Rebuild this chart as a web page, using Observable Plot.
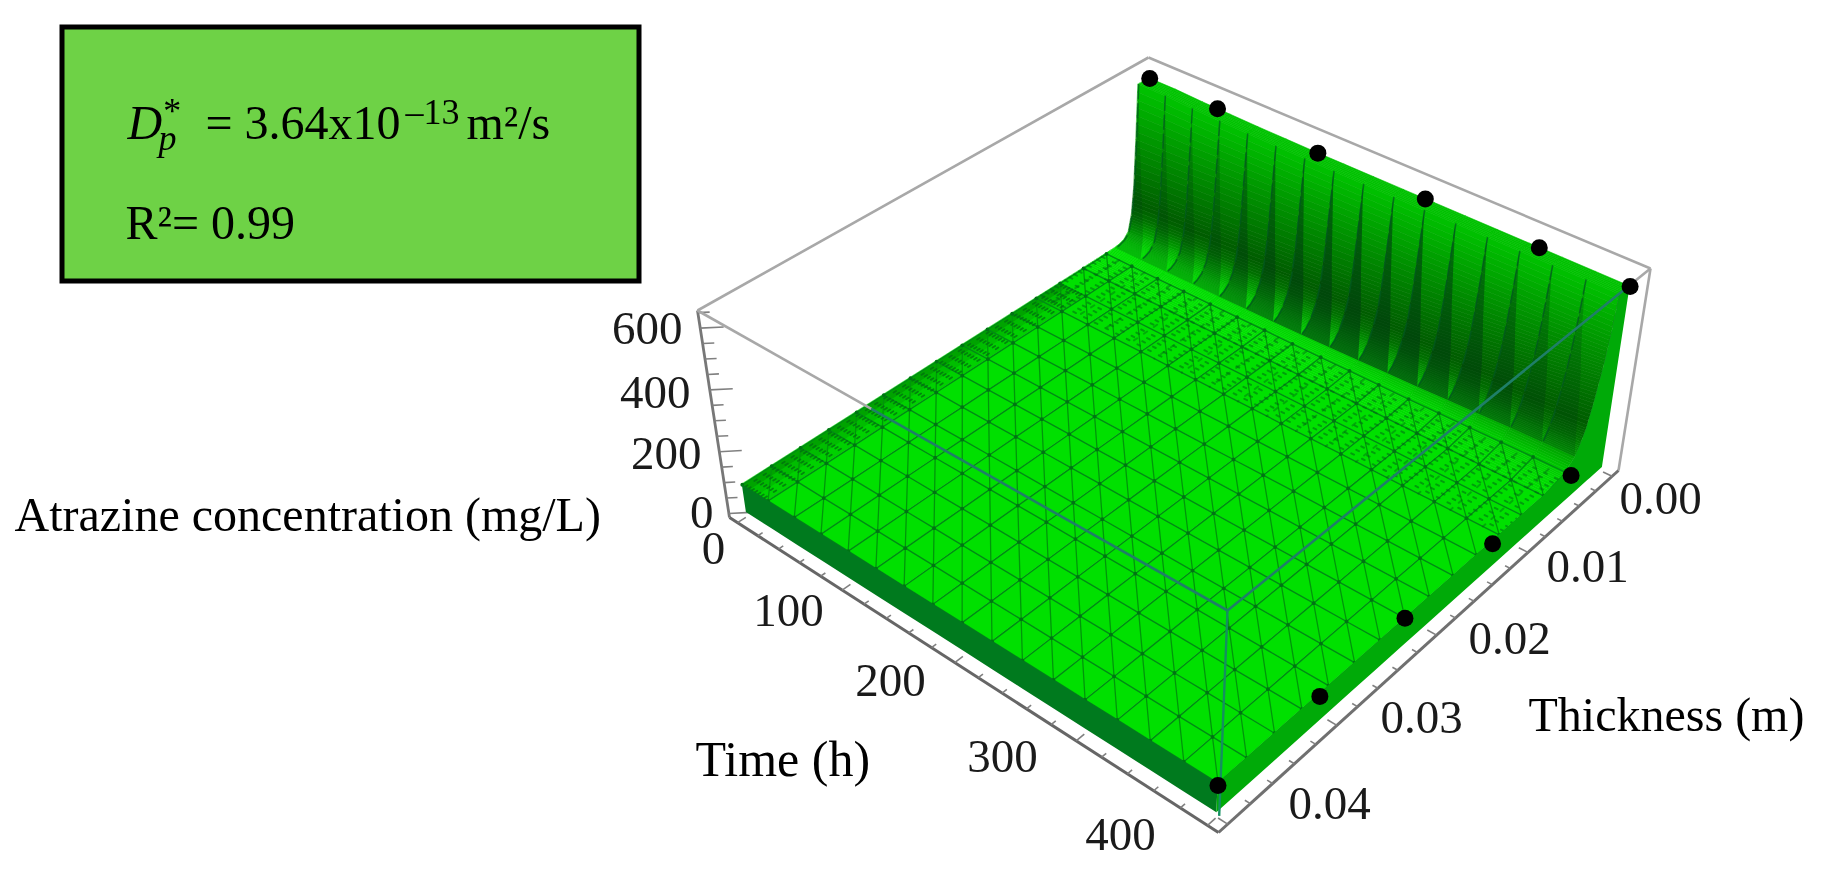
<!DOCTYPE html>
<html><head><meta charset="utf-8">
<style>html,body{margin:0;padding:0;background:#fff;overflow:hidden}svg{display:block}</style>
<script src="https://cdn.jsdelivr.net/npm/d3@7"></script>
<script src="https://cdn.jsdelivr.net/npm/@observablehq/plot@0.6"></script>
</head><body><script>
// ---- data ----
const times = [0,25,50,75,100,125,150,175,200,225,250,275,300,325,350,375,400];
const wallThick = [0,0.0012,0.0015,0.0018,0.0021,0.0025,0.003,0.0035,0.004,0.005,0.006,0.0075];
const wallConc = [
[610,610,420,260,170,115,98,92,90,90,90,90],
[610,610,425,268,178,122,102,94,91,90,90,90],
[606,606,430,275,186,130,106,96,92,90,90,90],
[604,604,435,283,194,138,110,98,93,90,90,90],
[602,602,440,290,202,146,115,101,94,91,90,90],
[601,601,445,298,210,154,120,104,96,91,90,90],
[600,600,450,305,218,162,126,107,98,92,90,90],
[600,600,455,313,226,170,132,111,100,92,90,90],
[600,600,458,322,235,180,138,115,103,93,90,90],
[600,600,461,331,245,190,145,120,106,94,91,90],
[600,600,464,340,255,200,152,125,110,95,91,90],
[600,600,466,350,265,210,160,130,113,96,92,90],
[600,600,469,360,280,222,168,136,117,98,92,90],
[600,600,472,370,295,235,176,142,121,100,93,90],
[600,600,474,380,310,247,184,148,125,102,94,90],
[600,600,477,390,325,258,192,154,128,104,95,90],
[600,600,480,400,340,270,200,160,130,105,95,90]];
const floorThick = [0.01,0.0125,0.015,0.0175,0.02,0.0225,0.025,0.0275,0.03,0.0325,0.035,0.0375,0.04];
const floorConc = [90,90,90,90,90,90,90,90,90,90,90,90,90];
const wedgeStrength = [.22,.24,.26,.3,.42,.5,.55,.6,.62,.6,.6,.55,.5,.42,.32,.24];
const topDotTimes = [0,63,152,242,332,400];
const topDotConc = [610,605,600,600,600,600];
const sideDotThick = [0.04,0.0308,0.0225,0.0132,0.0042];
const sideDotConc = [83,80,90,80,75];
const timeTicks = [0,100,200,300,400];
const thickTicks = [0,0.01,0.02,0.03,0.04];
const concTicks = [0,200,400,600];
const fineTimes = [3,6,9,12,15,18,21];
const fineThick = [0.0055,0.006,0.0065,0.007,0.0075,0.008,0.0085,0.009,0.0095,0.0105,0.011,0.0115,0.012];
const fineThickShort = [0.005,0.0065,0.008,0.0095,0.011,0.0125];
const titles = {conc:"Atrazine concentration (mg/L)", time:"Time (h)", thick:"Thickness (m)"};

// ---- view calibration (camera of the 3D box) ----
const boxT=[-8,408], boxH=[-0.0008,0.0408], boxC=[-13,657];
const topQuad=[[1148,57],[1650,268],[1227,610],[697,310]];
const botQuad=[[1150,246],[1618,470],[1218,832],[729,517]];
function homography(p){
  const [[x0,y0],[x1,y1],[x2,y2],[x3,y3]]=p;
  const dx1=x1-x2,dx2=x3-x2,sx=x0-x1+x2-x3,dy1=y1-y2,dy2=y3-y2,sy=y0-y1+y2-y3;
  const den=dx1*dy2-dx2*dy1,g=(sx*dy2-dx2*sy)/den,h=(dx1*sy-sx*dy1)/den;
  const a=x1-x0+g*x1,b=x3-x0+h*x3,d=y1-y0+g*y1,e=y3-y0+h*y3;
  return (u,v)=>{const k=g*u+h*v+1;return [(a*u+b*v+x0)/k,(d*u+e*v+y0)/k];};
}
const hTop=homography(topQuad),hBot=homography(botQuad);
function P(t,th,c){
  const u=(t-boxT[0])/(boxT[1]-boxT[0]),v=(th-boxH[0])/(boxH[1]-boxH[0]),w=(c-boxC[0])/(boxC[1]-boxC[0]);
  const a=hBot(u,v),b=hTop(u,v);return [a[0]+(b[0]-a[0])*w,a[1]+(b[1]-a[1])*w];
}
// ---- surface rows ----
const allThick=[...wallThick,...floorThick];
const conc=(i,j)=>j<wallThick.length?wallConc[i][j]:floorConc[j-wallThick.length];
const nT=times.length,nH=allThick.length;
const quads=[];let id=0;
function band(list,a,b,extra){const n=id++;for(let k=0;k<a.length;k++){const p=a[k],q=b[k];list.push({id:n,x1:p[0],y1:p[1],x2:q[0],y2:q[1],...extra});}}
for(let j=0;j<nH-1;j++){
  const steps=j<wallThick.length-1?7:1;   // finer colour steps on the wall
  for(let i=0;i<nT-1;i++)for(let s=0;s<steps;s++){
    const f0=s/steps,f1=(s+1)/steps,m=(a,b,f)=>a+(b-a)*f;
    const h0=m(allThick[j],allThick[j+1],f0),h1=m(allThick[j],allThick[j+1],f1);
    const a0=m(conc(i,j),conc(i,j+1),f0),a1=m(conc(i,j),conc(i,j+1),f1);
    const b0=m(conc(i+1,j),conc(i+1,j+1),f0),b1=m(conc(i+1,j),conc(i+1,j+1),f1);
    band(quads,[P(times[i],h0,a0),P(times[i+1],h0,b0)],[P(times[i],h1,a1),P(times[i+1],h1,b1)],{c:(a0+a1+b0+b1)/4});
  }
}
// wedge shadows on the wall
const wedges=[];
for(let i=0;i<nT-1;i++){
  const a=[],b=[];const last=8;
  for(let j=1;j<=last;j++){
    const f=(j-1)/(last-1);
    const tt=times[i]+(times[i+1]-times[i])*f;
    a.push(P(times[i],allThick[j],conc(i,j)));
    b.push(P(tt,allThick[j],conc(i,j)+(conc(i+1,j)-conc(i,j))*f));
  }
  band(wedges,a,b,{o:wedgeStrength[i]});
}
// skirts
const frontSkirt=[];band(frontSkirt,times.map((t,i)=>P(t,0.04,conc(i,nH-1))),times.map(t=>P(t,0.04,0)),{});
const sideSkirt=[];band(sideSkirt,allThick.map((h,j)=>P(400,h,conc(nT-1,j))),allThick.map(h=>P(400,h,0)),{});
// edge shading on floor near t=0
const edgeBand=[];
[[0,8,.38],[8,16,.22],[16,25,.09]].forEach(([a,b,o])=>{
  const hs=floorThick;band(edgeBand,hs.map(h=>P(a,h,90)),hs.map(h=>P(b,h,90)),{o});
});
// mesh
const L=(arr,z,pts,extra={})=>pts.forEach(p=>arr.push({z,x:p[0],y:p[1],...extra}));
const meshT=[],meshH=[],meshD=[],wallLines=[],fineA=[],fineB=[],fineC=[],nodes=[];
let z=0;
const meshThick=[0.005,0.0075,...floorThick];
const jOf=h=>allThick.indexOf(h);
times.forEach((t,i)=>{
  L(wallLines,z++,wallThick.slice(1,9).map((h,k)=>P(t,h,conc(i,k+1))));
  L(meshT,z++,meshThick.map(h=>P(t,h,conc(i,jOf(h)))));
  meshThick.forEach(h=>nodes.push(P(t,h,conc(i,jOf(h)))));
});
meshThick.forEach(h=>L(meshH,z++,times.map((t,i)=>P(t,h,conc(i,jOf(h))))));
for(let i=0;i<nT-1;i++)for(let k=0;k<meshThick.length-1;k++){
  const h=meshThick[k],h2=meshThick[k+1];
  L(meshD,z++,[P(times[i],h,conc(i,jOf(h))),P(times[i+1],h2,conc(i+1,jOf(h2)))]);
}
fineTimes.forEach(t=>L(fineA,z++,floorThick.map(h=>P(t,h,90))));
fineThick.forEach(h=>L(fineB,z++,times.map(t=>P(t,h,90))));
times.slice(1).forEach((t,i)=>L(fineC,z++,fineThickShort.map(h=>P(t-12.5,h,90))));
// box edges
const edge=(a,b,s,w)=>({x1:a[0],y1:a[1],x2:b[0],y2:b[1],s,w});
const [A,B,D,C]=topQuad,[H,G,F,E]=botQuad;
const mix=(a,b,f)=>[a[0]+(b[0]-a[0])*f,a[1]+(b[1]-a[1])*f];
const backEdges=[edge(A,B,"#a8a8a8",2.6),edge(A,C,"#a8a8a8",2.6),edge(B,G,"#a8a8a8",2.6),edge(C,E,"#777",2.8),edge(E,F,"#666",3),edge(F,G,"#707070",3)];
const frontEdges=[edge(C,mix(C,D,.328),"#a8a8a8",2.6),edge(mix(C,D,.328),D,"#1f7f68",2.6),edge(B,mix(B,D,.05),"#a8a8a8",2.6),edge(mix(B,D,.05),D,"#1f7f68",2.6),edge(D,mix(D,F,.925),"#148f60",2.4)];
// ticks
const ticks=[];
const tk=(p,q)=>ticks.push({x1:p[0],y1:p[1],x2:q[0],y2:q[1]});
for(let c=0;c<=650;c+=50){const m=c%200===0?10:5;tk(P(boxT[0],boxH[1],c),P(boxT[0]+m,boxH[1]-m/1e4,c));}
for(let t=0;t<=400;t+=20){const m=t%100===0?.0007:.0004;tk(P(t,boxH[1],boxC[0]),P(t,boxH[1]-m,boxC[0]));}
for(let h=0;h<=0.0401;h+=0.002){const m=Math.round(h*1e4)%100===0?7:4;tk(P(boxT[1],h,boxC[0]),P(boxT[1]-m,h,boxC[0]));}
// dots
const dots=[...topDotTimes.map((t,i)=>P(t,0,topDotConc[i])),...sideDotThick.map((h,i)=>P(400,h,sideDotConc[i]))];
// layout of text
const layout={
 box:{x1:62,x2:639,y1:27,y2:281},
 time:[[713,548],[788,610],[890,680],[1002,756],[1120,834]],
 thick:[[1660,498],[1587,566],[1509,638],[1421,717],[1329,803]],
 conc:[[713,512],[701,453],[690,392],[682,328]]
};
const serif="Liberation Serif";
const T=(text,x,y,o={})=>Plot.text([text],{x:()=>x,y:()=>y,text:d=>d,fontFamily:serif,fontSize:48,fill:"#000",lineAnchor:"bottom",textAnchor:"start",...o});
const tickText=(vals,xy,fmt,o={})=>Plot.text(vals.map((v,i)=>({t:fmt(v),x:xy[i][0],y:xy[i][1]})),{x:"x",y:"y",text:"t",fontFamily:serif,fontSize:47,fill:"#1a1a1a",lineAnchor:"middle",textAnchor:"middle",...o});

const chart=Plot.plot({
  width:1823,height:874,margin:0,
  x:{domain:[0,1823],range:[0,1823],axis:null},
  y:{domain:[0,874],range:[0,874],axis:null},
  color:{type:"linear",domain:[90,105,130,170,210,300,450,610],range:["#00e000","#00c800","#00a000","#007000","#005c00","#007400","#009a00","#00c400"],interpolate:"rgb"},
  style:{background:"#fff",filter:"blur(0.7px)"},
  marks:[
    Plot.rect([layout.box],{x1:"x1",x2:"x2",y1:"y1",y2:"y2",fill:"#6ed246",stroke:"#000",strokeWidth:5}),
    T("D",127,138,{fontStyle:"italic"}),
    T("p",158,149,{fontStyle:"italic",fontSize:36}),
    T("*",161,122,{fontStyle:"italic",fontSize:36}),
    T("= 3.64x10",205,138),
    T("–13",405,123,{fontSize:36}),
    T("m²/s",466,138),
    T("R²= 0.99",125,238),
    Plot.link(backEdges,{x1:"x1",y1:"y1",x2:"x2",y2:"y2",stroke:"s",strokeWidth:"w"}),
    Plot.link(ticks,{x1:"x1",y1:"y1",x2:"x2",y2:"y2",stroke:"#808080",strokeWidth:1.6}),
    Plot.area(quads,{x1:"x1",y1:"y1",x2:"x2",y2:"y2",z:"id",fill:"c",stroke:"c",strokeWidth:.6}),
    Plot.area(wedges,{x1:"x1",y1:"y1",x2:"x2",y2:"y2",z:"id",fill:"#003a10",fillOpacity:"o"}),
    Plot.area(edgeBand,{x1:"x1",y1:"y1",x2:"x2",y2:"y2",z:"id",fill:"#004000",fillOpacity:"o"}),
    Plot.line(meshT,{x:"x",y:"y",z:"z",stroke:"#008c14",strokeWidth:1.4}),
    Plot.line(meshH,{x:"x",y:"y",z:"z",stroke:"#008c14",strokeWidth:1.4}),
    Plot.line(meshD,{x:"x",y:"y",z:"z",stroke:"#00960a",strokeWidth:1.3}),
    Plot.dot(nodes,{x:d=>d[0],y:d=>d[1],r:1.9,fill:"#007414"}),
    Plot.line(wallLines,{x:"x",y:"y",z:"z",stroke:"#005a20",strokeWidth:1.6,strokeOpacity:.7,strokeDasharray:"14 5"}),
    Plot.line(fineA,{x:"x",y:"y",z:"z",stroke:"#006a10",strokeWidth:1.8,strokeDasharray:"3 8",strokeOpacity:.7}),
    Plot.line(fineB,{x:"x",y:"y",z:"z",stroke:"#006a14",strokeWidth:2,strokeDasharray:"3 9",strokeOpacity:.55}),
    Plot.line(fineC,{x:"x",y:"y",z:"z",stroke:"#006a14",strokeWidth:2,strokeDasharray:"4 8",strokeOpacity:.45}),
    Plot.area(frontSkirt,{x1:"x1",y1:"y1",x2:"x2",y2:"y2",z:"id",fill:"#007a1e"}),
    Plot.area(sideSkirt,{x1:"x1",y1:"y1",x2:"x2",y2:"y2",z:"id",fill:"#00aa08"}),
    Plot.link(frontEdges,{x1:"x1",y1:"y1",x2:"x2",y2:"y2",stroke:"s",strokeWidth:"w"}),
    Plot.dot(dots,{x:d=>d[0],y:d=>d[1],r:8.5,fill:"#000"}),
    tickText(timeTicks,layout.time,String),
    tickText(thickTicks,layout.thick,v=>v.toFixed(2)),
    tickText(concTicks,layout.conc,String,{textAnchor:"end"}),
    T(titles.conc,14,530),
    T(titles.time,695,775,{fontSize:50}),
    T(titles.thick,1528,730)
  ]
});
document.body.appendChild(chart);
</script></body></html>
